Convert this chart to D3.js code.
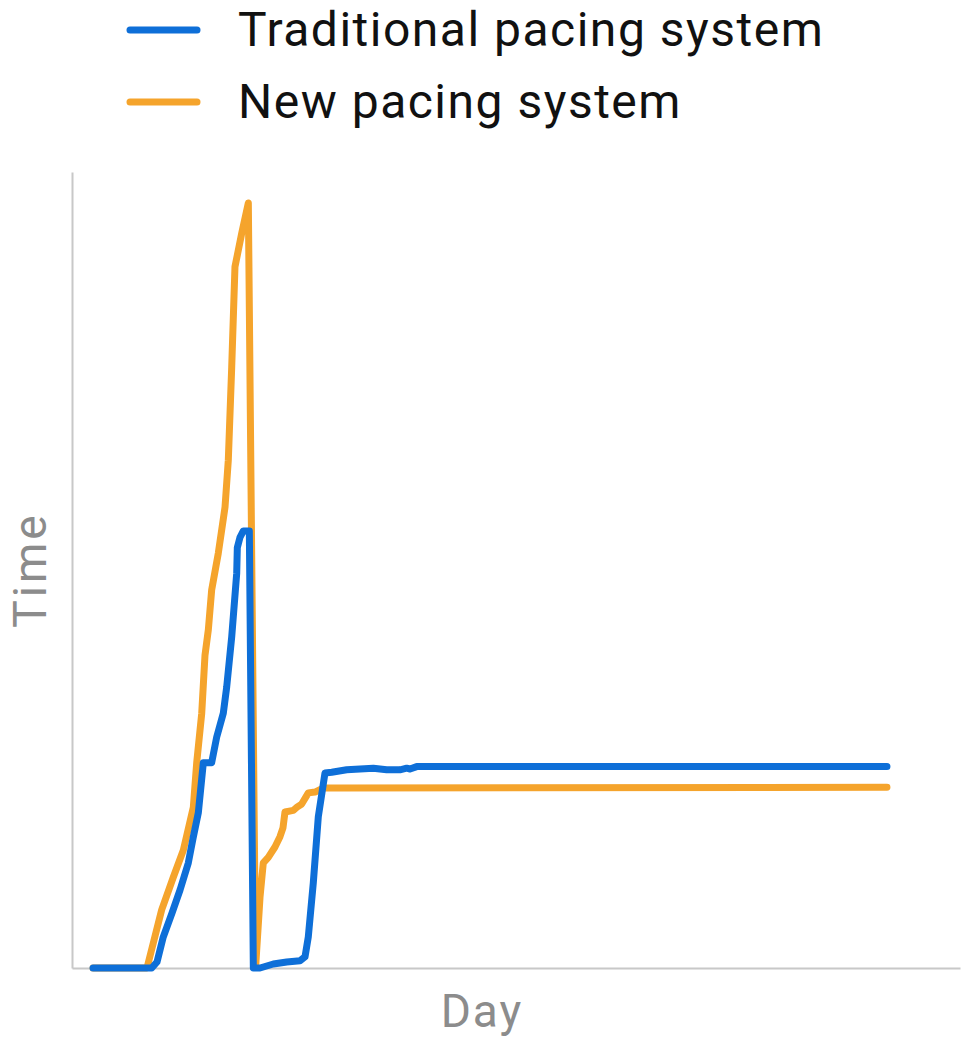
<!DOCTYPE html>
<html>
<head>
<meta charset="utf-8">
<script src="https://cdn.jsdelivr.net/npm/d3@7"></script>
<style>
  body { margin: 0; background: #fff; }
  #viz_container { width: 961px; height: 1042px; }
</style>
</head>
<body>
<div id="viz_container"></div>
<script>
//Data/////////////////////////////////////////////////////
const seriesNames = ["Traditional pacing system", "New pacing system"];
const seriesColors = ["#0e6fd8", "#f5a42c"];

// day, time (arbitrary units, no ticks shown)
const traditionalDays = [3.15, 11.94, 12.73, 13.67, 14.98, 16.18, 17.42, 18.13, 18.92, 19.67, 20.92, 21.67, 22.66, 23.17, 23.92, 24.67, 24.76, 25.16, 25.66, 26.56, 27.16, 28.16, 30.15, 32.16, 34.15, 34.9, 35.39, 36.14, 36.89, 37.89, 38.9, 41.14, 45.13, 47.13, 49.12, 50.13, 50.63, 51.63, 55.12, 122.06];
const traditionalTime = [0, 0, 0.75, 3.9, 6.9, 9.8, 13.2, 16.3, 19.5, 25.8, 25.8, 29.0, 32.0, 35.3, 41.6, 49.6, 52.8, 54.1, 54.9, 54.9, 0, 0, 0.5, 0.75, 0.9, 1.4, 3.9, 10.7, 19.0, 24.5, 24.6, 24.9, 25.1, 24.9, 24.9, 25.1, 25.0, 25.3, 25.3, 25.3];

const newDays = [3.15, 11.23, 13.43, 15.17, 16.67, 18.17, 18.68, 19.43, 19.92, 20.42, 20.92, 21.91, 22.92, 23.41, 23.92, 24.41, 25.42, 26.41, 27.5, 28.16, 28.65, 29.4, 30.4, 31.15, 31.6, 31.9, 33.15, 33.7, 34.4, 35.4, 36.4, 37.6, 40.14, 122.06];
const newTime = [0, 0, 7.3, 11.4, 14.8, 20.2, 25.8, 32.0, 39.3, 42.5, 47.5, 52.1, 57.9, 63.8, 75.5, 88.1, 92.3, 96.1, 0.1, 8.9, 13.2, 13.9, 15.2, 16.5, 17.6, 19.6, 19.8, 20.2, 20.6, 22.0, 22.1, 22.6, 22.6, 22.7];

const xLabel = "Day";
const yLabel = "Time";

// set the dimensions of the graph
const width = 961, height = 1042;
const plot = {left: 72, right: 960, top: 172, bottom: 968};

const svg = d3.select("#viz_container")
  .append("svg")
    .attr("width", width)
    .attr("height", height)
    .style("font-family", "Roboto, sans-serif");

// scales
const xScale = d3.scaleLinear().domain([0, 133]).range([plot.left, plot.right]);
const yScale = d3.scaleLinear().domain([0, 100]).range([plot.bottom, plot.top]);

// axes: plain lines, no ticks
svg.append("g")
    .attr("transform", `translate(0,${plot.bottom})`)
    .call(d3.axisBottom(xScale).ticks(0).tickSize(0).tickFormat(""))
    .call(g => g.select(".domain").attr("stroke", "#c8c8c8").attr("stroke-width", 2));

svg.append("g")
    .attr("transform", `translate(${plot.left},0)`)
    .call(d3.axisLeft(yScale).ticks(0).tickSize(0).tickFormat(""))
    .call(g => g.select(".domain").attr("stroke", "#c8c8c8").attr("stroke-width", 2));

// axis labels
svg.append("text")
    .attr("x", 482)
    .attr("y", 1027)
    .attr("text-anchor", "middle")
    .attr("font-size", "46px")
    .attr("letter-spacing", "2px")
    .attr("fill", "#8c8c8c")
    .text(xLabel);

svg.append("text")
    .attr("transform", "translate(46,570) rotate(-90)")
    .attr("text-anchor", "middle")
    .attr("font-size", "46px")
    .attr("letter-spacing", "3px")
    .attr("fill", "#8c8c8c")
    .text(yLabel);

// lines
const series = [
  {name: seriesNames[1], color: seriesColors[1], values: newDays.map((d, i) => [d, newTime[i]])},
  {name: seriesNames[0], color: seriesColors[0], values: traditionalDays.map((d, i) => [d, traditionalTime[i]])}
];

const line = d3.line()
    .x(d => xScale(d[0]))
    .y(d => yScale(d[1]));

svg.append("g")
  .selectAll("path")
  .data(series)
  .join("path")
    .attr("d", d => line(d.values))
    .attr("fill", "none")
    .attr("stroke", d => d.color)
    .attr("stroke-width", 7)
    .attr("stroke-linejoin", "round")
    .attr("stroke-linecap", "round");

// legend
const legend = svg.append("g")
  .selectAll("g")
  .data(seriesNames)
  .join("g")
    .attr("transform", (d, i) => `translate(0,${30 + i * 72})`);

legend.append("line")
    .attr("x1", 130).attr("x2", 197)
    .attr("y1", 0).attr("y2", 0)
    .attr("stroke", (d, i) => seriesColors[i])
    .attr("stroke-width", 7)
    .attr("stroke-linecap", "round");

legend.append("text")
    .attr("x", 238)
    .attr("y", 16)
    .attr("font-size", "48px")
    .attr("letter-spacing", "1.5px")
    .attr("fill", "#111")
    .text(d => d);
</script>
</body>
</html>
